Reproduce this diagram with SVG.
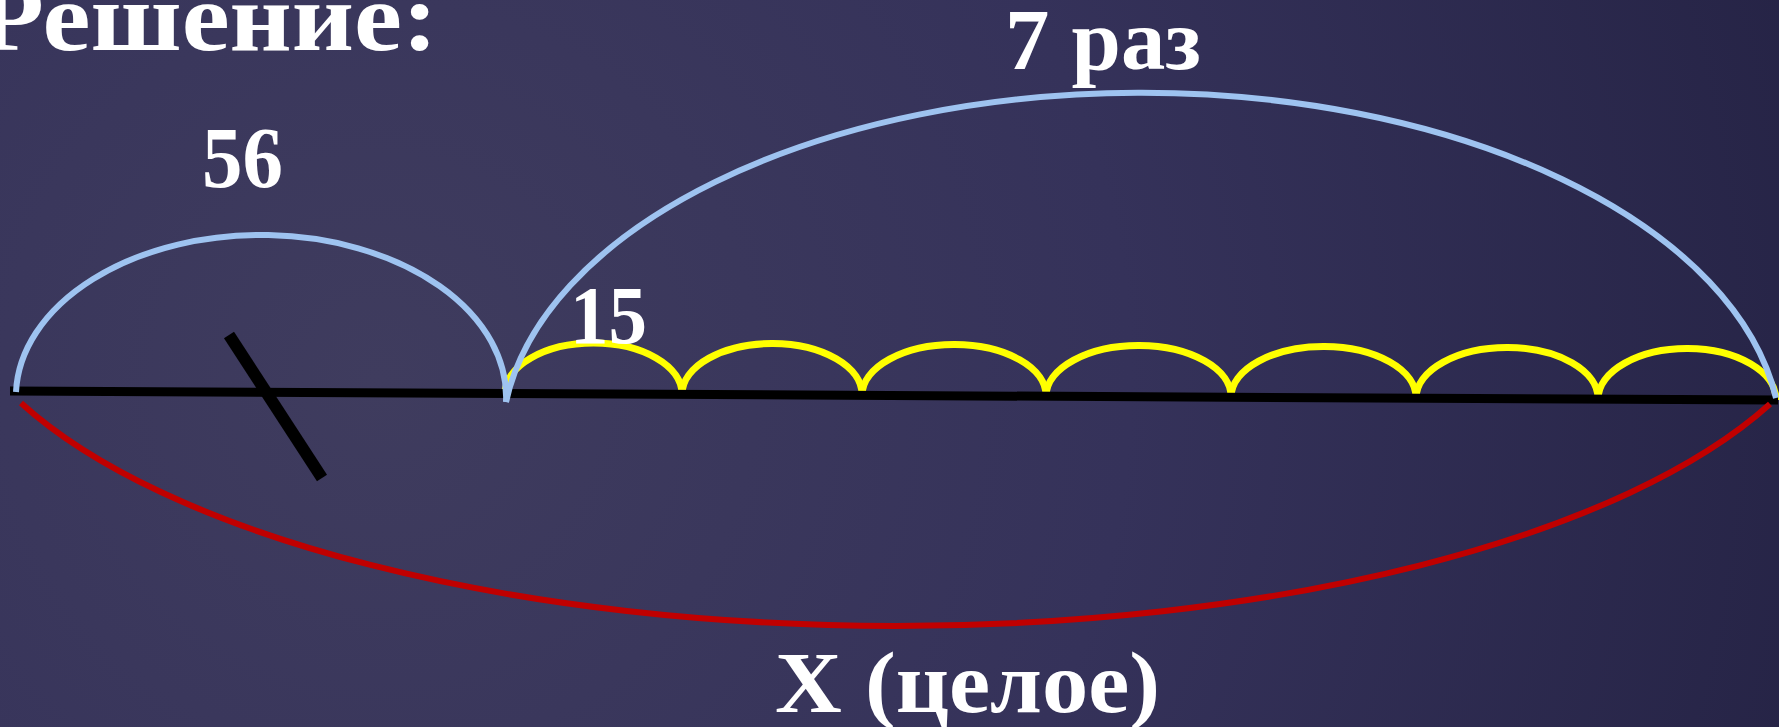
<svg xmlns="http://www.w3.org/2000/svg" width="1779" height="727" viewBox="0 0 1779 727">
  <defs>
    <radialGradient id="bg" cx="380" cy="380" r="1500" gradientUnits="userSpaceOnUse">
      <stop offset="0" stop-color="#3f3c5e"/>
      <stop offset="0.5" stop-color="#35325a"/>
      <stop offset="1" stop-color="#252345"/>
    </radialGradient>
    <style>
      .lbl { font-family: "Liberation Serif", "Times New Roman", serif; font-weight: bold; fill: #ffffff; }
      .blue { fill: none; stroke: #9ec3f0; stroke-width: 6; }
      .yellow { fill: none; stroke: #ffff00; stroke-width: 7; }
      .red { fill: none; stroke: #c00000; stroke-width: 6; }
      .black { fill: none; stroke: #000000; stroke-width: 9; }
    </style>
  </defs>
  <rect x="0" y="0" width="1779" height="727" fill="url(#bg)"/>

  <g id="connectors">
    <g id="yellow-parts">
      <path class="yellow" d="M505,394 A88.5,51 0 0 1 682,394"/>
      <path class="yellow" d="M682,394 A90,51 0 0 1 862,395"/>
      <path class="yellow" d="M862,395 A92,51 0 0 1 1046,396"/>
      <path class="yellow" d="M1046,396 A92.5,51 0 0 1 1231,397"/>
      <path class="yellow" d="M1231,397 A92.5,51 0 0 1 1416,398"/>
      <path class="yellow" d="M1416,398 A91,51 0 0 1 1598,399"/>
      <path class="yellow" d="M1598,399 A89,51 0 0 1 1776,400"/>
    </g>
    <line id="segment" class="black" x1="10" y1="391" x2="1778" y2="400"/>
    <line id="slash" x1="229" y1="335" x2="322" y2="478" stroke="#000000" stroke-width="12"/>
    <path id="arc-56" class="blue" d="M16,392 A245,162 0 0 1 506,402"/>
    <path id="arc-7" class="blue" d="M506,402 A640,351 0 0 1 1776,398"/>
    <path id="arc-x" class="red" d="M21,403 A950,365 0 0 0 1770,404"/>
  </g>

  <g id="title"><text class="lbl" x="-22" y="50" font-size="97" textLength="460" lengthAdjust="spacingAndGlyphs">Решение:</text></g>
  <g id="label-56"><text class="lbl" x="202" y="187" font-size="86" textLength="81" lengthAdjust="spacingAndGlyphs">56</text></g>
  <g id="label-7"><text class="lbl" x="1005" y="69" font-size="86" textLength="196" lengthAdjust="spacingAndGlyphs">7 раз</text></g>
  <g id="label-15"><text class="lbl" x="570" y="343" font-size="82" textLength="77" lengthAdjust="spacingAndGlyphs">15</text></g>
  <g id="label-x"><text class="lbl" x="775" y="712" font-size="86" textLength="385" lengthAdjust="spacingAndGlyphs">X (целое)</text></g>
</svg>
